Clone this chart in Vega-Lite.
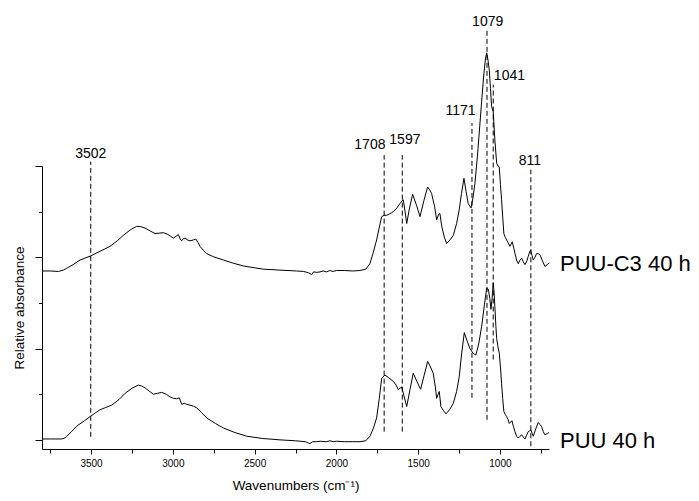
{
  "$schema": "https://vega.github.io/schema/vega-lite/v6.json",
  "width": 507,
  "height": 283,
  "autosize": {"type": "none"},
  "padding": {"left": 42, "top": 166, "right": 150, "bottom": 52},
  "background": "white",
  "config": {
    "view": {"stroke": null},
    "font": "Liberation Sans",
    "axis": {"grid": false, "domainColor": "black", "tickColor": "black", "labelColor": "black", "titleColor": "black", "titleFontWeight": "normal", "labelFont": "Liberation Sans", "titleFont": "Liberation Sans"}
  },
  "datasets": {
    "spectra": [
      {"wn":3800,"a":1.85,"s":"PUU-C3 40 h"},{"wn":3750,"a":1.85,"s":"PUU-C3 40 h"},{"wn":3700,"a":1.845,"s":"PUU-C3 40 h"},{"wn":3669,"a":1.86,"s":"PUU-C3 40 h"},{"wn":3649,"a":1.88,"s":"PUU-C3 40 h"},{"wn":3610,"a":1.92,"s":"PUU-C3 40 h"},{"wn":3567,"a":1.97,"s":"PUU-C3 40 h"},{"wn":3502,"a":2.015,"s":"PUU-C3 40 h"},{"wn":3440,"a":2.07,"s":"PUU-C3 40 h"},{"wn":3384,"a":2.12,"s":"PUU-C3 40 h"},{"wn":3340,"a":2.18,"s":"PUU-C3 40 h"},{"wn":3303,"a":2.24,"s":"PUU-C3 40 h"},{"wn":3260,"a":2.3,"s":"PUU-C3 40 h"},{"wn":3221,"a":2.34,"s":"PUU-C3 40 h"},{"wn":3195,"a":2.335,"s":"PUU-C3 40 h"},{"wn":3170,"a":2.32,"s":"PUU-C3 40 h"},{"wn":3140,"a":2.29,"s":"PUU-C3 40 h"},{"wn":3109,"a":2.26,"s":"PUU-C3 40 h"},{"wn":3080,"a":2.265,"s":"PUU-C3 40 h"},{"wn":3058,"a":2.27,"s":"PUU-C3 40 h"},{"wn":3030,"a":2.25,"s":"PUU-C3 40 h"},{"wn":2997,"a":2.21,"s":"PUU-C3 40 h"},{"wn":2980,"a":2.23,"s":"PUU-C3 40 h"},{"wn":2966,"a":2.25,"s":"PUU-C3 40 h"},{"wn":2955,"a":2.2,"s":"PUU-C3 40 h"},{"wn":2946,"a":2.18,"s":"PUU-C3 40 h"},{"wn":2935,"a":2.205,"s":"PUU-C3 40 h"},{"wn":2925,"a":2.21,"s":"PUU-C3 40 h"},{"wn":2910,"a":2.19,"s":"PUU-C3 40 h"},{"wn":2895,"a":2.18,"s":"PUU-C3 40 h"},{"wn":2875,"a":2.19,"s":"PUU-C3 40 h"},{"wn":2860,"a":2.2,"s":"PUU-C3 40 h"},{"wn":2845,"a":2.16,"s":"PUU-C3 40 h"},{"wn":2834,"a":2.12,"s":"PUU-C3 40 h"},{"wn":2810,"a":2.07,"s":"PUU-C3 40 h"},{"wn":2793,"a":2.04,"s":"PUU-C3 40 h"},{"wn":2750,"a":2.005,"s":"PUU-C3 40 h"},{"wn":2691,"a":1.97,"s":"PUU-C3 40 h"},{"wn":2630,"a":1.935,"s":"PUU-C3 40 h"},{"wn":2569,"a":1.905,"s":"PUU-C3 40 h"},{"wn":2500,"a":1.885,"s":"PUU-C3 40 h"},{"wn":2447,"a":1.87,"s":"PUU-C3 40 h"},{"wn":2350,"a":1.86,"s":"PUU-C3 40 h"},{"wn":2243,"a":1.85,"s":"PUU-C3 40 h"},{"wn":2200,"a":1.845,"s":"PUU-C3 40 h"},{"wn":2170,"a":1.83,"s":"PUU-C3 40 h"},{"wn":2151,"a":1.81,"s":"PUU-C3 40 h"},{"wn":2140,"a":1.84,"s":"PUU-C3 40 h"},{"wn":2120,"a":1.835,"s":"PUU-C3 40 h"},{"wn":2100,"a":1.84,"s":"PUU-C3 40 h"},{"wn":2080,"a":1.85,"s":"PUU-C3 40 h"},{"wn":2060,"a":1.84,"s":"PUU-C3 40 h"},{"wn":2040,"a":1.855,"s":"PUU-C3 40 h"},{"wn":2020,"a":1.845,"s":"PUU-C3 40 h"},{"wn":2000,"a":1.855,"s":"PUU-C3 40 h"},{"wn":1950,"a":1.855,"s":"PUU-C3 40 h"},{"wn":1900,"a":1.85,"s":"PUU-C3 40 h"},{"wn":1856,"a":1.855,"s":"PUU-C3 40 h"},{"wn":1820,"a":1.87,"s":"PUU-C3 40 h"},{"wn":1795,"a":1.93,"s":"PUU-C3 40 h"},{"wn":1775,"a":2.05,"s":"PUU-C3 40 h"},{"wn":1754,"a":2.19,"s":"PUU-C3 40 h"},{"wn":1735,"a":2.35,"s":"PUU-C3 40 h"},{"wn":1723,"a":2.445,"s":"PUU-C3 40 h"},{"wn":1708,"a":2.46,"s":"PUU-C3 40 h"},{"wn":1693,"a":2.46,"s":"PUU-C3 40 h"},{"wn":1670,"a":2.48,"s":"PUU-C3 40 h"},{"wn":1652,"a":2.5,"s":"PUU-C3 40 h"},{"wn":1630,"a":2.54,"s":"PUU-C3 40 h"},{"wn":1611,"a":2.59,"s":"PUU-C3 40 h"},{"wn":1591,"a":2.63,"s":"PUU-C3 40 h"},{"wn":1580,"a":2.5,"s":"PUU-C3 40 h"},{"wn":1570,"a":2.37,"s":"PUU-C3 40 h"},{"wn":1555,"a":2.52,"s":"PUU-C3 40 h"},{"wn":1534,"a":2.69,"s":"PUU-C3 40 h"},{"wn":1510,"a":2.57,"s":"PUU-C3 40 h"},{"wn":1489,"a":2.445,"s":"PUU-C3 40 h"},{"wn":1465,"a":2.62,"s":"PUU-C3 40 h"},{"wn":1442,"a":2.77,"s":"PUU-C3 40 h"},{"wn":1430,"a":2.74,"s":"PUU-C3 40 h"},{"wn":1418,"a":2.7,"s":"PUU-C3 40 h"},{"wn":1400,"a":2.56,"s":"PUU-C3 40 h"},{"wn":1387,"a":2.41,"s":"PUU-C3 40 h"},{"wn":1375,"a":2.47,"s":"PUU-C3 40 h"},{"wn":1367,"a":2.48,"s":"PUU-C3 40 h"},{"wn":1356,"a":2.34,"s":"PUU-C3 40 h"},{"wn":1340,"a":2.22,"s":"PUU-C3 40 h"},{"wn":1326,"a":2.15,"s":"PUU-C3 40 h"},{"wn":1305,"a":2.19,"s":"PUU-C3 40 h"},{"wn":1285,"a":2.24,"s":"PUU-C3 40 h"},{"wn":1265,"a":2.37,"s":"PUU-C3 40 h"},{"wn":1249,"a":2.52,"s":"PUU-C3 40 h"},{"wn":1235,"a":2.7,"s":"PUU-C3 40 h"},{"wn":1220,"a":2.865,"s":"PUU-C3 40 h"},{"wn":1207,"a":2.72,"s":"PUU-C3 40 h"},{"wn":1194,"a":2.59,"s":"PUU-C3 40 h"},{"wn":1177,"a":2.54,"s":"PUU-C3 40 h"},{"wn":1165,"a":2.65,"s":"PUU-C3 40 h"},{"wn":1153,"a":2.81,"s":"PUU-C3 40 h"},{"wn":1138,"a":3.1,"s":"PUU-C3 40 h"},{"wn":1122,"a":3.47,"s":"PUU-C3 40 h"},{"wn":1110,"a":3.75,"s":"PUU-C3 40 h"},{"wn":1098,"a":4.015,"s":"PUU-C3 40 h"},{"wn":1088,"a":4.18,"s":"PUU-C3 40 h"},{"wn":1081,"a":4.24,"s":"PUU-C3 40 h"},{"wn":1073,"a":4.16,"s":"PUU-C3 40 h"},{"wn":1065,"a":4.05,"s":"PUU-C3 40 h"},{"wn":1058,"a":3.85,"s":"PUU-C3 40 h"},{"wn":1051,"a":3.65,"s":"PUU-C3 40 h"},{"wn":1041,"a":3.595,"s":"PUU-C3 40 h"},{"wn":1031,"a":3.285,"s":"PUU-C3 40 h"},{"wn":1020,"a":3.03,"s":"PUU-C3 40 h"},{"wn":1012,"a":3.0,"s":"PUU-C3 40 h"},{"wn":1004,"a":2.99,"s":"PUU-C3 40 h"},{"wn":997,"a":2.8,"s":"PUU-C3 40 h"},{"wn":990,"a":2.63,"s":"PUU-C3 40 h"},{"wn":983,"a":2.44,"s":"PUU-C3 40 h"},{"wn":976,"a":2.26,"s":"PUU-C3 40 h"},{"wn":968,"a":2.22,"s":"PUU-C3 40 h"},{"wn":959,"a":2.19,"s":"PUU-C3 40 h"},{"wn":950,"a":2.16,"s":"PUU-C3 40 h"},{"wn":939,"a":2.12,"s":"PUU-C3 40 h"},{"wn":925,"a":2.17,"s":"PUU-C3 40 h"},{"wn":915,"a":2.1,"s":"PUU-C3 40 h"},{"wn":908,"a":2.04,"s":"PUU-C3 40 h"},{"wn":898,"a":1.97,"s":"PUU-C3 40 h"},{"wn":888,"a":1.93,"s":"PUU-C3 40 h"},{"wn":877,"a":1.97,"s":"PUU-C3 40 h"},{"wn":867,"a":1.99,"s":"PUU-C3 40 h"},{"wn":857,"a":1.95,"s":"PUU-C3 40 h"},{"wn":847,"a":1.92,"s":"PUU-C3 40 h"},{"wn":835,"a":1.96,"s":"PUU-C3 40 h"},{"wn":827,"a":2.01,"s":"PUU-C3 40 h"},{"wn":818,"a":2.06,"s":"PUU-C3 40 h"},{"wn":812,"a":2.08,"s":"PUU-C3 40 h"},{"wn":804,"a":2.02,"s":"PUU-C3 40 h"},{"wn":796,"a":1.97,"s":"PUU-C3 40 h"},{"wn":786,"a":2.0,"s":"PUU-C3 40 h"},{"wn":776,"a":2.04,"s":"PUU-C3 40 h"},{"wn":766,"a":2.04,"s":"PUU-C3 40 h"},{"wn":756,"a":2.03,"s":"PUU-C3 40 h"},{"wn":740,"a":1.96,"s":"PUU-C3 40 h"},{"wn":725,"a":1.9,"s":"PUU-C3 40 h"},{"wn":710,"a":1.92,"s":"PUU-C3 40 h"},{"wn":700,"a":1.94,"s":"PUU-C3 40 h"},
      {"wn":3800,"a":0.01,"s":"PUU 40 h"},{"wn":3750,"a":0.01,"s":"PUU 40 h"},{"wn":3681,"a":0.01,"s":"PUU 40 h"},{"wn":3660,"a":0.02,"s":"PUU 40 h"},{"wn":3649,"a":0.04,"s":"PUU 40 h"},{"wn":3620,"a":0.09,"s":"PUU 40 h"},{"wn":3588,"a":0.15,"s":"PUU 40 h"},{"wn":3540,"a":0.21,"s":"PUU 40 h"},{"wn":3502,"a":0.26,"s":"PUU 40 h"},{"wn":3470,"a":0.3,"s":"PUU 40 h"},{"wn":3445,"a":0.33,"s":"PUU 40 h"},{"wn":3410,"a":0.355,"s":"PUU 40 h"},{"wn":3374,"a":0.38,"s":"PUU 40 h"},{"wn":3330,"a":0.44,"s":"PUU 40 h"},{"wn":3292,"a":0.51,"s":"PUU 40 h"},{"wn":3250,"a":0.565,"s":"PUU 40 h"},{"wn":3211,"a":0.6,"s":"PUU 40 h"},{"wn":3190,"a":0.59,"s":"PUU 40 h"},{"wn":3170,"a":0.57,"s":"PUU 40 h"},{"wn":3145,"a":0.535,"s":"PUU 40 h"},{"wn":3119,"a":0.5,"s":"PUU 40 h"},{"wn":3095,"a":0.51,"s":"PUU 40 h"},{"wn":3068,"a":0.52,"s":"PUU 40 h"},{"wn":3040,"a":0.5,"s":"PUU 40 h"},{"wn":3017,"a":0.47,"s":"PUU 40 h"},{"wn":2995,"a":0.455,"s":"PUU 40 h"},{"wn":2976,"a":0.45,"s":"PUU 40 h"},{"wn":2960,"a":0.46,"s":"PUU 40 h"},{"wn":2946,"a":0.39,"s":"PUU 40 h"},{"wn":2930,"a":0.4,"s":"PUU 40 h"},{"wn":2915,"a":0.39,"s":"PUU 40 h"},{"wn":2895,"a":0.38,"s":"PUU 40 h"},{"wn":2875,"a":0.37,"s":"PUU 40 h"},{"wn":2854,"a":0.35,"s":"PUU 40 h"},{"wn":2825,"a":0.3,"s":"PUU 40 h"},{"wn":2793,"a":0.24,"s":"PUU 40 h"},{"wn":2740,"a":0.18,"s":"PUU 40 h"},{"wn":2691,"a":0.13,"s":"PUU 40 h"},{"wn":2620,"a":0.08,"s":"PUU 40 h"},{"wn":2548,"a":0.04,"s":"PUU 40 h"},{"wn":2450,"a":0.015,"s":"PUU 40 h"},{"wn":2345,"a":0.0,"s":"PUU 40 h"},{"wn":2250,"a":-0.01,"s":"PUU 40 h"},{"wn":2190,"a":-0.02,"s":"PUU 40 h"},{"wn":2170,"a":-0.035,"s":"PUU 40 h"},{"wn":2161,"a":-0.04,"s":"PUU 40 h"},{"wn":2145,"a":-0.02,"s":"PUU 40 h"},{"wn":2120,"a":-0.02,"s":"PUU 40 h"},{"wn":2100,"a":-0.015,"s":"PUU 40 h"},{"wn":2060,"a":-0.02,"s":"PUU 40 h"},{"wn":2040,"a":-0.01,"s":"PUU 40 h"},{"wn":2020,"a":-0.02,"s":"PUU 40 h"},{"wn":2000,"a":-0.015,"s":"PUU 40 h"},{"wn":1950,"a":-0.02,"s":"PUU 40 h"},{"wn":1900,"a":-0.02,"s":"PUU 40 h"},{"wn":1856,"a":-0.02,"s":"PUU 40 h"},{"wn":1820,"a":-0.01,"s":"PUU 40 h"},{"wn":1795,"a":0.04,"s":"PUU 40 h"},{"wn":1775,"a":0.12,"s":"PUU 40 h"},{"wn":1754,"a":0.24,"s":"PUU 40 h"},{"wn":1738,"a":0.45,"s":"PUU 40 h"},{"wn":1723,"a":0.675,"s":"PUU 40 h"},{"wn":1703,"a":0.71,"s":"PUU 40 h"},{"wn":1680,"a":0.68,"s":"PUU 40 h"},{"wn":1652,"a":0.64,"s":"PUU 40 h"},{"wn":1635,"a":0.6,"s":"PUU 40 h"},{"wn":1621,"a":0.55,"s":"PUU 40 h"},{"wn":1601,"a":0.58,"s":"PUU 40 h"},{"wn":1585,"a":0.47,"s":"PUU 40 h"},{"wn":1570,"a":0.365,"s":"PUU 40 h"},{"wn":1550,"a":0.55,"s":"PUU 40 h"},{"wn":1530,"a":0.73,"s":"PUU 40 h"},{"wn":1508,"a":0.64,"s":"PUU 40 h"},{"wn":1485,"a":0.555,"s":"PUU 40 h"},{"wn":1463,"a":0.71,"s":"PUU 40 h"},{"wn":1442,"a":0.86,"s":"PUU 40 h"},{"wn":1425,"a":0.8,"s":"PUU 40 h"},{"wn":1408,"a":0.73,"s":"PUU 40 h"},{"wn":1395,"a":0.58,"s":"PUU 40 h"},{"wn":1387,"a":0.455,"s":"PUU 40 h"},{"wn":1378,"a":0.5,"s":"PUU 40 h"},{"wn":1371,"a":0.53,"s":"PUU 40 h"},{"wn":1361,"a":0.365,"s":"PUU 40 h"},{"wn":1345,"a":0.32,"s":"PUU 40 h"},{"wn":1330,"a":0.285,"s":"PUU 40 h"},{"wn":1308,"a":0.33,"s":"PUU 40 h"},{"wn":1285,"a":0.4,"s":"PUU 40 h"},{"wn":1265,"a":0.53,"s":"PUU 40 h"},{"wn":1249,"a":0.69,"s":"PUU 40 h"},{"wn":1235,"a":0.93,"s":"PUU 40 h"},{"wn":1218,"a":1.175,"s":"PUU 40 h"},{"wn":1200,"a":1.08,"s":"PUU 40 h"},{"wn":1183,"a":1.0,"s":"PUU 40 h"},{"wn":1165,"a":0.95,"s":"PUU 40 h"},{"wn":1147,"a":0.93,"s":"PUU 40 h"},{"wn":1130,"a":1.05,"s":"PUU 40 h"},{"wn":1112,"a":1.24,"s":"PUU 40 h"},{"wn":1095,"a":1.48,"s":"PUU 40 h"},{"wn":1081,"a":1.66,"s":"PUU 40 h"},{"wn":1071,"a":1.65,"s":"PUU 40 h"},{"wn":1062,"a":1.55,"s":"PUU 40 h"},{"wn":1055,"a":1.43,"s":"PUU 40 h"},{"wn":1048,"a":1.55,"s":"PUU 40 h"},{"wn":1041,"a":1.72,"s":"PUU 40 h"},{"wn":1036,"a":1.62,"s":"PUU 40 h"},{"wn":1031,"a":1.46,"s":"PUU 40 h"},{"wn":1025,"a":1.25,"s":"PUU 40 h"},{"wn":1020,"a":1.11,"s":"PUU 40 h"},{"wn":1012,"a":1.02,"s":"PUU 40 h"},{"wn":1004,"a":0.95,"s":"PUU 40 h"},{"wn":997,"a":0.8,"s":"PUU 40 h"},{"wn":990,"a":0.62,"s":"PUU 40 h"},{"wn":983,"a":0.45,"s":"PUU 40 h"},{"wn":976,"a":0.31,"s":"PUU 40 h"},{"wn":968,"a":0.28,"s":"PUU 40 h"},{"wn":959,"a":0.255,"s":"PUU 40 h"},{"wn":950,"a":0.22,"s":"PUU 40 h"},{"wn":943,"a":0.18,"s":"PUU 40 h"},{"wn":927,"a":0.21,"s":"PUU 40 h"},{"wn":918,"a":0.15,"s":"PUU 40 h"},{"wn":908,"a":0.09,"s":"PUU 40 h"},{"wn":898,"a":0.04,"s":"PUU 40 h"},{"wn":888,"a":0.02,"s":"PUU 40 h"},{"wn":877,"a":0.04,"s":"PUU 40 h"},{"wn":867,"a":0.055,"s":"PUU 40 h"},{"wn":857,"a":0.03,"s":"PUU 40 h"},{"wn":847,"a":0.01,"s":"PUU 40 h"},{"wn":837,"a":0.05,"s":"PUU 40 h"},{"wn":827,"a":0.09,"s":"PUU 40 h"},{"wn":818,"a":0.1,"s":"PUU 40 h"},{"wn":811,"a":0.11,"s":"PUU 40 h"},{"wn":803,"a":0.07,"s":"PUU 40 h"},{"wn":796,"a":0.04,"s":"PUU 40 h"},{"wn":781,"a":0.12,"s":"PUU 40 h"},{"wn":766,"a":0.19,"s":"PUU 40 h"},{"wn":756,"a":0.17,"s":"PUU 40 h"},{"wn":745,"a":0.145,"s":"PUU 40 h"},{"wn":735,"a":0.09,"s":"PUU 40 h"},{"wn":725,"a":0.055,"s":"PUU 40 h"},{"wn":710,"a":0.07,"s":"PUU 40 h"},{"wn":700,"a":0.08,"s":"PUU 40 h"}
    ],
    "peaks": [
      {"wn":3502,"y1":0.033,"y2":3.047,"label":"3502","lx":3502,"ly":3.084},
      {"wn":1708,"y1":0.09,"y2":3.12,"label":"1708","lx":1795,"ly":3.19},
      {"wn":1597,"y1":0.09,"y2":3.12,"label":"1597","lx":1581,"ly":3.24},
      {"wn":1171,"y1":0.46,"y2":3.47,"label":"1171","lx":1241,"ly":3.56},
      {"wn":1079,"y1":0.22,"y2":4.49,"label":"1079","lx":1075,"ly":4.533},
      {"wn":1041,"y1":0.88,"y2":3.89,"label":"1041","lx":942,"ly":3.94},
      {"wn":811,"y1":-0.07,"y2":2.96,"label":"811","lx":817,"ly":3.01}
    ],
    "samples": [
      {"label":"PUU-C3 40 h","wn":633,"a":1.853},
      {"label":"PUU 40 h","wn":633,"a":-0.088}
    ]
  },
  "layer": [
    {
      "data": {"name": "spectra"},
      "mark": {"type": "line", "color": "black", "strokeWidth": 1},
      "encoding": {
        "x": {"field": "wn", "type": "quantitative",
          "scale": {"domain": [700, 3800], "reverse": true, "nice": false, "zero": false},
          "axis": {"title": "Wavenumbers (cm⁻¹)", "titleFontSize": 13.5, "titlePadding": 10,
            "values": [3750,3500,3250,3000,2750,2500,2250,2000,1750,1500,1250,1000,750],
            "labelExpr": "datum.value % 500 === 0 ? datum.value + '' : ''",
            "labelFontSize": 10, "labelPadding": 4,
            "tickSize": {"condition": {"test": "datum.value % 500 === 0", "value": 5}, "value": 4}}},
        "y": {"field": "a", "type": "quantitative",
          "scale": {"domain": [-0.1, 3.0], "nice": false, "zero": false},
          "axis": {"title": "Relative absorbance", "titleFontSize": 13.5, "titlePadding": 8,
            "values": [0, 0.5, 1, 1.5, 2, 2.5, 3], "labels": false,
            "tickSize": {"condition": {"test": "datum.value % 1 === 0", "value": 7}, "value": 3.5}}},
        "detail": {"field": "s"}
      }
    },
    {
      "data": {"name": "peaks"},
      "mark": {"type": "rule", "color": "black", "strokeWidth": 1, "strokeDash": [5, 3]},
      "encoding": {
        "x": {"field": "wn", "type": "quantitative"},
        "y": {"field": "y1", "type": "quantitative"},
        "y2": {"field": "y2"}
      }
    },
    {
      "data": {"name": "peaks"},
      "mark": {"type": "text", "color": "black", "fontSize": 14, "align": "center", "baseline": "alphabetic", "font": "Liberation Sans"},
      "encoding": {
        "x": {"field": "lx", "type": "quantitative"},
        "y": {"field": "ly", "type": "quantitative"},
        "text": {"field": "label"}
      }
    },
    {
      "data": {"name": "samples"},
      "mark": {"type": "text", "color": "black", "fontSize": 22, "align": "left", "baseline": "alphabetic", "font": "Liberation Sans"},
      "encoding": {
        "x": {"field": "wn", "type": "quantitative"},
        "y": {"field": "a", "type": "quantitative"},
        "text": {"field": "label"}
      }
    }
  ]
}
